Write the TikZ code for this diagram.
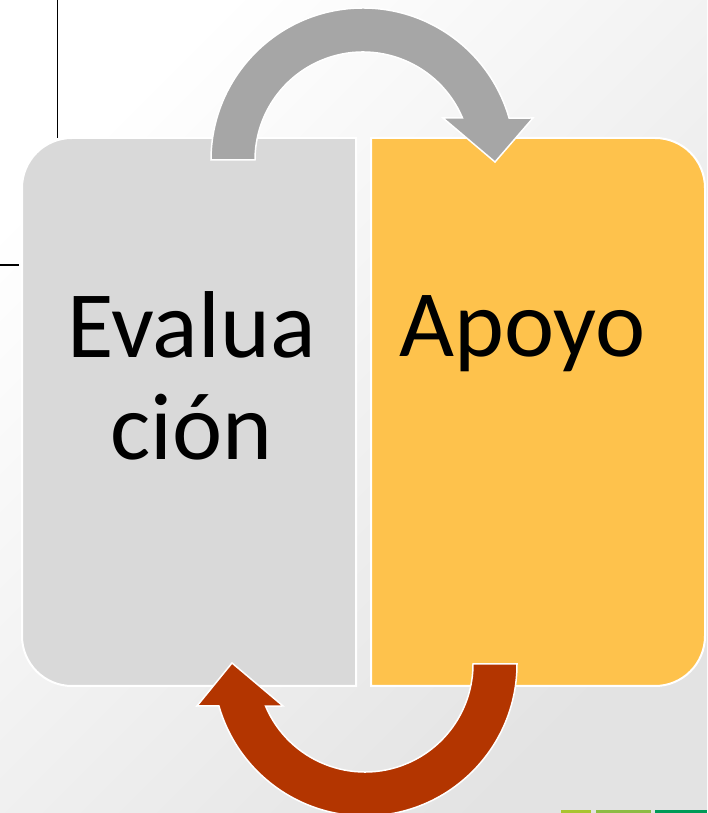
\documentclass[tikz,border=0pt]{standalone}
\usepackage{fontspec}
\setmainfont{Carlito}
\usetikzlibrary{calc}
\definecolor{boxgray}{HTML}{D9D9D9}
\definecolor{boxgold}{HTML}{FEC24C}
\definecolor{arrgray}{HTML}{A6A6A6}
\definecolor{arrred}{HTML}{B33500}
\definecolor{barone}{HTML}{A9C42F}
\definecolor{bartwo}{HTML}{8DBB44}
\definecolor{barthree}{HTML}{009A57}
\begin{document}
\begin{tikzpicture}[x=1pt,y=1pt,
    box/.style={draw=white,line width=2pt},
    arr/.style={draw=white,line width=1.5pt,line join=miter},
    word/.style={font=\fontsize{95}{102}\selectfont,anchor=base,align=center,inner sep=0pt}]
    \useasboundingbox (0,0) rectangle (707,813);
    \shade[shading=axis,top color=white,bottom color=black!11,shading angle=45] (0,0) rectangle (707,813);
    % stray lines
    \draw[line width=1.5pt] (57.5,813)--(57.5,675);
    \draw[line width=1.5pt] (0,548)--(19,548);
    \fill[barone] (561,0) rectangle (591,2.5);
    \fill[bartwo] (596,0) rectangle (651,2.5);
    \fill[barthree] (655,0) rectangle (707,2.5);
    % boxes
    \path[box,fill=boxgray] (356,127)--(72,127) arc[start angle=270,end angle=180,radius=50]
        --(22,625) arc[start angle=180,end angle=90,radius=50]--(356,675)--cycle;
    \path[box,fill=boxgold] (371,127)--(655,127) arc[start angle=270,end angle=360,radius=50]
        --(705,625) arc[start angle=0,end angle=90,radius=50]--(371,675)--cycle;
    \node[word] (eval) at (191.5,353) {Evalua\\ción};
    \node[word] (apoyo) at (522.5,456) {Apoyo};
    % arrows
    \coordinate (topc) at (363,653);
    \coordinate (botc) at (365,149);
    \path[arr,fill=arrgray] ($(topc)+(180:152)$) arc[start angle=180,end angle=16,radius=152]
        --(533,695)--(495,651)--(443,695)--($(topc)+(22.9:108)$)
        arc[start angle=22.9,end angle=180,radius=108]--cycle;
    \path[arr,fill=arrred] ($(botc)+(0:152)$) arc[start angle=0,end angle=-164,radius=152]
        --(197,107)--(232,150)--(283,107)--($(botc)+(-157.1:108)$)
        arc[start angle=-157.1,end angle=0,radius=108]--cycle;
\end{tikzpicture}
\end{document}
